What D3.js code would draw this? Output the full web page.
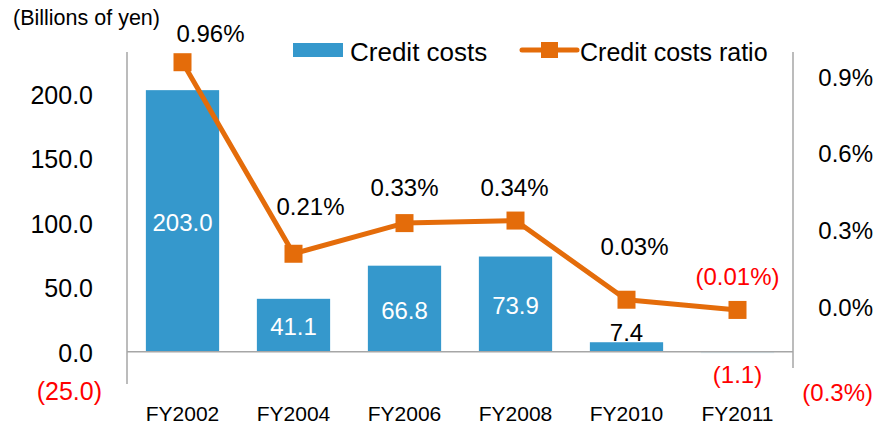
<!DOCTYPE html>
<html>
<head>
<meta charset="utf-8">
<script src="https://cdn.jsdelivr.net/npm/d3@7"></script>
<style>
  body { margin: 0; background: #fff; }
  svg { font-family: "Liberation Sans", Arial, sans-serif; }
</style>
</head>
<body>
<svg id="chart" width="879" height="428"></svg>
<script>
{
  const categories = ['FY2002', 'FY2004', 'FY2006', 'FY2008', 'FY2010', 'FY2011'];
  const creditCosts = [203.0, 41.1, 66.8, 73.9, 7.4, -1.1];
  const costsRatio = [0.96, 0.21, 0.33, 0.34, 0.03, -0.01];
  const leftTicks = [-25, 0, 50, 100, 150, 200];
  const rightTicks = [-0.3, 0, 0.3, 0.6, 0.9];

  const BLUE = '#3598CC';
  const ORANGE = '#E46C0A';
  const GREY = '#A6A6A6';
  const RED = '#FF0000';

  // hand placed label nudges, like the original chart
  const ratioLabelOffset = [[28, -20], [17, -39], [0, -27], [-1, -25], [8, -45], [0, -25]];

  const svg = d3.select('#chart');
  const left = 127, right = 793, top = 52, bottom = 384;

  const x = d3.scaleBand()
    .domain(categories)
    .range([left, right])
    .paddingInner(0.34)
    .paddingOuter(0.17);

  const y = d3.scaleLinear().domain([-25, 232.6]).range([bottom, top]);
  const y2 = d3.scaleLinear().domain([-0.3, 1.0]).range([bottom, top]);

  const fmtCost = (v) => v < 0 ? `(${d3.format('.1f')(-v)})` : d3.format('.1f')(v);
  const fmtPct = (v, digits) => {
    const s = d3.format(`.${digits}f`)(Math.abs(v)) + '%';
    return v < 0 ? `(${s})` : s;
  };

  // left axis
  const leftAxis = svg.append('g')
    .attr('transform', `translate(${left},0)`)
    .call(d3.axisLeft(y).tickValues(leftTicks).tickSize(0).tickPadding(34).tickFormat(fmtCost));
  leftAxis.select('.domain').remove();
  leftAxis.selectAll('text')
    .attr('font-size', 25)
    .attr('font-family', '"Liberation Sans", Arial, sans-serif')
    .attr('fill', (d) => d < 0 ? RED : '#000')
    .attr('dx', (d) => d < 0 ? 9 : 0)
    .attr('dy', (d) => d < 0 ? '0.62em' : '0.38em');

  // right axis
  const rightAxis = svg.append('g')
    .attr('transform', `translate(${right},0)`)
    .call(d3.axisRight(y2).tickValues(rightTicks).tickSize(0).tickPadding(0).tickFormat((d) => fmtPct(d, 1)));
  rightAxis.select('.domain').remove();
  rightAxis.selectAll('text')
    .attr('x', 80)
    .attr('text-anchor', 'end')
    .attr('font-size', 24)
    .attr('font-family', '"Liberation Sans", Arial, sans-serif')
    .attr('fill', (d) => d < 0 ? RED : '#000')
    .attr('dy', (d) => d < 0 ? '0.7em' : '0.32em');

  svg.append('line')
    .attr('x1', left).attr('x2', left)
    .attr('y1', top).attr('y2', bottom)
    .attr('stroke', GREY).attr('stroke-width', 1.5);

  svg.append('line')
    .attr('x1', right).attr('x2', right)
    .attr('y1', top).attr('y2', y(-12.5))
    .attr('stroke', GREY).attr('stroke-width', 1.5);

  // bars
  svg.append('g')
    .selectAll('rect')
    .data(creditCosts)
    .join('rect')
      .attr('x', (d, i) => x(categories[i]))
      .attr('width', x.bandwidth())
      .attr('y', (d) => y(Math.max(0, d)))
      .attr('height', (d) => Math.abs(y(d) - y(0)))
      .attr('fill', BLUE)
      .attr('opacity', (d) => d < 0 ? 0.15 : 1);

  // zero line
  svg.append('line')
    .attr('x1', left).attr('x2', right)
    .attr('y1', y(0)).attr('y2', y(0))
    .attr('stroke', GREY).attr('stroke-width', 1.5);

  // bar labels
  svg.append('g')
    .selectAll('text')
    .data(creditCosts)
    .join('text')
      .attr('x', (d, i) => x(categories[i]) + x.bandwidth() / 2)
      .attr('y', (d) => {
        if (d < 0) return y(d) + 30;
        if (d < 20) return y(d) - 1;
        return (y(d) + y(0)) / 2 + 10;
      })
      .attr('text-anchor', 'middle')
      .attr('font-size', 24)
      .attr('fill', (d) => d < 0 ? RED : (d < 20 ? '#000' : '#fff'))
      .text(fmtCost);

  // ratio line
  const cx = (i) => x(categories[i]) + x.bandwidth() / 2;

  const line = d3.line()
    .x((d, i) => cx(i))
    .y((d) => y2(d));

  svg.append('path')
    .datum(costsRatio)
    .attr('d', line)
    .attr('fill', 'none')
    .attr('stroke', ORANGE)
    .attr('stroke-width', 5)
    .attr('stroke-linejoin', 'round');

  svg.append('g')
    .selectAll('rect')
    .data(costsRatio)
    .join('rect')
      .attr('x', (d, i) => cx(i) - 9)
      .attr('y', (d) => y2(d) - 9)
      .attr('width', 18)
      .attr('height', 18)
      .attr('fill', ORANGE);

  svg.append('g')
    .selectAll('text')
    .data(costsRatio)
    .join('text')
      .attr('x', (d, i) => cx(i) + ratioLabelOffset[i][0])
      .attr('y', (d, i) => y2(d) + ratioLabelOffset[i][1])
      .attr('text-anchor', 'middle')
      .attr('font-size', 24)
      .attr('fill', (d) => d < 0 ? RED : '#000')
      .text((d) => fmtPct(d, 2));

  // category labels
  svg.append('g')
    .selectAll('text')
    .data(categories)
    .join('text')
      .attr('x', (d) => x(d) + x.bandwidth() / 2)
      .attr('y', 421)
      .attr('text-anchor', 'middle')
      .attr('font-size', 21)
      .text((d) => d);

  // unit
  svg.append('text')
    .attr('x', 13)
    .attr('y', 25)
    .attr('font-size', 21.5)
    .text('(Billions of yen)');

  // legend
  const legend = svg.append('g');

  legend.append('rect')
    .attr('x', 293).attr('y', 43)
    .attr('width', 50).attr('height', 14)
    .attr('fill', BLUE);

  legend.append('text')
    .attr('x', 350).attr('y', 61)
    .attr('font-size', 26)
    .text('Credit costs');

  legend.append('line')
    .attr('x1', 522).attr('x2', 577)
    .attr('y1', 50).attr('y2', 50)
    .attr('stroke', ORANGE).attr('stroke-width', 5)
    .attr('stroke-linecap', 'round');

  legend.append('rect')
    .attr('x', 541).attr('y', 42)
    .attr('width', 17).attr('height', 16)
    .attr('fill', ORANGE);

  legend.append('text')
    .attr('x', 580).attr('y', 61)
    .attr('font-size', 25)
    .text('Credit costs ratio');
}
</script>
</body>
</html>
